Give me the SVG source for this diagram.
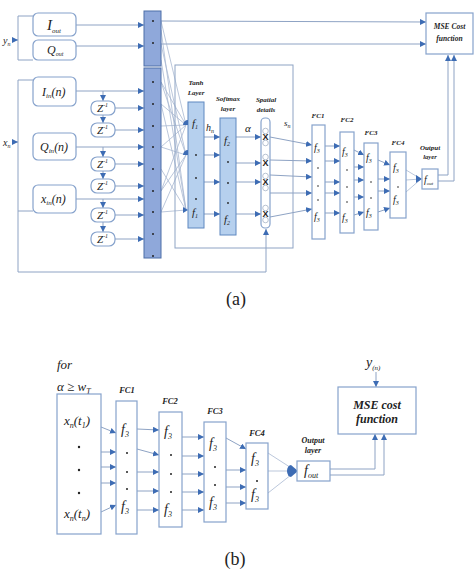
<svg xmlns="http://www.w3.org/2000/svg" width="474" height="570" viewBox="0 0 474 570">
<defs>
<marker id="ah" markerUnits="userSpaceOnUse" markerWidth="6" markerHeight="6" refX="6" refY="3" orient="auto">
<path d="M0,0 L6,3 L0,6 z" fill="#3d6cb4"/>
</marker>
<style>
.ln{fill:none;stroke:#8ea3c4;stroke-width:1}
.fan{fill:none;stroke:#aab9d2;stroke-width:0.8}
.ar{fill:none;stroke:#8ea3c4;stroke-width:1;marker-end:url(#ah)}
.bx{fill:#fff;stroke:#86a2cc;stroke-width:1.2}
.blk{fill:#8fa8da;stroke:#4d6ea8;stroke-width:1}
.lay{fill:#b6d0ee;stroke:#5f88c0;stroke-width:1}
.m{font-family:"Liberation Serif","Times New Roman",serif;font-style:italic;fill:#222}
.t{font-family:"Liberation Serif","Times New Roman",serif;font-style:italic;font-weight:bold;fill:#222;text-anchor:middle}
.dot{fill:#222}
.blob{fill:#3d6cb4}
</style>
</defs>
<rect width="474" height="570" fill="#fff"/>

<g id="connectors">
<polyline class="ln" points="33,16 18,16 18,60 33,60"/>
<line class="ar" x1="13" y1="40" x2="18" y2="40"/>
<polyline class="ln" points="33,80 18,80 18,272 266,272"/>
<line class="ln" x1="18" y1="211" x2="33" y2="211"/>
<line class="ar" x1="13" y1="142" x2="18" y2="142"/>
<line class="ar" x1="266" y1="272" x2="266" y2="229"/>
<line class="ar" x1="76" y1="25" x2="144" y2="25"/>
<line class="ar" x1="76" y1="46" x2="144" y2="46"/>
<line class="ar" x1="76" y1="91" x2="144" y2="91"/>
<line class="ar" x1="115" y1="108" x2="144" y2="108"/>
<line class="ar" x1="115" y1="130" x2="144" y2="130"/>
<line class="ar" x1="76" y1="147" x2="144" y2="147"/>
<line class="ar" x1="115" y1="164" x2="144" y2="164"/>
<line class="ar" x1="115" y1="186" x2="144" y2="186"/>
<line class="ar" x1="76" y1="199" x2="144" y2="199"/>
<line class="ar" x1="115" y1="215" x2="144" y2="215"/>
<line class="ar" x1="115" y1="239" x2="144" y2="239"/>
<line class="ar" x1="103" y1="91" x2="103" y2="101"/>
<line class="ar" x1="103" y1="115" x2="103" y2="123"/>
<line class="ar" x1="103" y1="147" x2="103" y2="157"/>
<line class="ar" x1="103" y1="171" x2="103" y2="179"/>
<line class="ar" x1="103" y1="199" x2="103" y2="208"/>
<line class="ar" x1="103" y1="222" x2="103" y2="232"/>
<line class="ar" x1="161" y1="21" x2="426" y2="22"/>
<line class="ar" x1="161" y1="44" x2="426" y2="44"/>
<line class="fan" x1="161" y1="21" x2="186" y2="125"/>
<line class="fan" x1="161" y1="44" x2="186" y2="155"/>
<line class="fan" x1="161" y1="30" x2="186" y2="210"/>
<line class="fan" x1="161" y1="82" x2="186" y2="125"/>
<line class="fan" x1="161" y1="82" x2="186" y2="155"/>
<line class="fan" x1="161" y1="104" x2="186" y2="210"/>
<line class="fan" x1="161" y1="104" x2="186" y2="125"/>
<line class="fan" x1="161" y1="126" x2="186" y2="125"/>
<line class="fan" x1="161" y1="147" x2="186" y2="155"/>
<line class="fan" x1="161" y1="147" x2="186" y2="125"/>
<line class="fan" x1="161" y1="169" x2="186" y2="210"/>
<line class="fan" x1="161" y1="191" x2="186" y2="125"/>
<line class="fan" x1="161" y1="191" x2="186" y2="155"/>
<line class="fan" x1="161" y1="212" x2="186" y2="210"/>
<line class="fan" x1="161" y1="212" x2="186" y2="155"/>
<line class="fan" x1="161" y1="60" x2="186" y2="210"/>
<line class="ar" x1="204" y1="137" x2="220" y2="137"/>
<line class="ar" x1="204" y1="155" x2="220" y2="155"/>
<line class="ar" x1="204" y1="182" x2="220" y2="182"/>
<line class="ar" x1="204" y1="214" x2="220" y2="214"/>
<line class="ar" x1="236" y1="137" x2="261" y2="137"/>
<line class="ar" x1="236" y1="163" x2="261" y2="163"/>
<line class="ar" x1="236" y1="182" x2="261" y2="182"/>
<line class="ar" x1="236" y1="214" x2="261" y2="214"/>
<line class="ar" x1="270" y1="137" x2="312" y2="145"/>
<line class="ar" x1="270" y1="160" x2="312" y2="161"/>
<line class="ar" x1="270" y1="175" x2="312" y2="177"/>
<line class="ar" x1="270" y1="193" x2="312" y2="193"/>
<line class="ar" x1="270" y1="217" x2="312" y2="209"/>
<line class="ar" x1="325" y1="146" x2="340" y2="146"/>
<line class="ar" x1="325" y1="161" x2="340" y2="161"/>
<line class="ar" x1="325" y1="182" x2="340" y2="182"/>
<line class="ar" x1="325" y1="193" x2="340" y2="193"/>
<line class="ar" x1="325" y1="213" x2="340" y2="213"/>
<line class="ar" x1="354" y1="150" x2="364" y2="155"/>
<line class="ar" x1="354" y1="167" x2="364" y2="167"/>
<line class="ar" x1="354" y1="180" x2="364" y2="180"/>
<line class="ar" x1="354" y1="197" x2="364" y2="197"/>
<line class="ar" x1="354" y1="215" x2="364" y2="212"/>
<line class="ar" x1="378" y1="160" x2="390" y2="165"/>
<line class="ar" x1="378" y1="179" x2="390" y2="179"/>
<line class="ar" x1="378" y1="191" x2="390" y2="191"/>
<line class="ar" x1="378" y1="212" x2="390" y2="208"/>
<line class="fan" x1="406" y1="170" x2="421" y2="179"/>
<line class="fan" x1="406" y1="180" x2="421" y2="179"/>
<line class="fan" x1="406" y1="192" x2="421" y2="179"/>
<path class="blob" d="M416,175 L422,179 L416,183 z"/>
<polyline class="ar" points="438,175 448,175 448,55"/>
<polyline class="ar" points="438,181 454,181 454,55"/>

<line class="ar" x1="101" y1="427" x2="116" y2="433"/>
<line class="ar" x1="101" y1="452" x2="116" y2="452"/>
<line class="ar" x1="101" y1="467" x2="116" y2="467"/>
<line class="ar" x1="101" y1="483" x2="116" y2="483"/>
<line class="ar" x1="101" y1="512" x2="116" y2="505"/>
<line class="ar" x1="137" y1="429" x2="159" y2="430"/>
<line class="ar" x1="137" y1="449" x2="159" y2="455"/>
<line class="ar" x1="137" y1="472" x2="159" y2="472"/>
<line class="ar" x1="137" y1="491" x2="159" y2="491"/>
<line class="ar" x1="137" y1="510" x2="159" y2="510"/>
<line class="ar" x1="182" y1="437" x2="204" y2="437"/>
<line class="ar" x1="182" y1="456" x2="204" y2="456"/>
<line class="ar" x1="182" y1="474" x2="204" y2="474"/>
<line class="ar" x1="182" y1="492" x2="204" y2="492"/>
<line class="ar" x1="182" y1="510" x2="204" y2="510"/>
<line class="ar" x1="226" y1="438" x2="246" y2="449"/>
<line class="ar" x1="226" y1="470" x2="246" y2="470"/>
<line class="ar" x1="226" y1="487" x2="246" y2="487"/>
<line class="ar" x1="226" y1="503" x2="246" y2="503"/>
<line class="fan" x1="268" y1="453" x2="296" y2="471"/>
<line class="fan" x1="268" y1="471" x2="296" y2="471"/>
<line class="fan" x1="268" y1="493" x2="296" y2="471"/>
<path class="blob" d="M291,465 A4,6 0 0 0 291,477 L298,471 z"/>
<polyline class="ar" points="330,469 375,469 375,434"/>
<polyline class="ar" points="330,475 384,475 384,434"/>
<line class="ar" x1="376" y1="372" x2="376" y2="387"/>
</g>

<g id="y-label"><text class="m" x="3" y="44" font-size="10">y<tspan font-size="6" dy="2">n</tspan></text></g>
<g id="x-label"><text class="m" x="3" y="146" font-size="10">x<tspan font-size="6" dy="2">n</tspan></text></g>

<g id="I-out"><rect class="bx" x="33" y="13" width="43" height="23" rx="5"/>
<text class="m" x="47" y="30" font-size="15">I<tspan font-size="7" dy="3">out</tspan></text></g>
<g id="Q-out"><rect class="bx" x="33" y="40" width="43" height="20" rx="5"/>
<text class="m" x="47" y="54" font-size="12">Q<tspan font-size="6" dy="2">out</tspan></text></g>

<g id="I-in"><rect class="bx" x="33" y="77" width="43" height="29" rx="5"/>
<text class="m" x="42" y="96" font-size="12">I<tspan font-size="7" dy="2">in</tspan><tspan dy="-2">(n)</tspan></text></g>
<g id="Q-in"><rect class="bx" x="33" y="133" width="43" height="27" rx="5"/>
<text class="m" x="40" y="151" font-size="12">Q<tspan font-size="7" dy="2">in</tspan><tspan dy="-2">(n)</tspan></text></g>
<g id="x-in"><rect class="bx" x="33" y="185" width="43" height="28" rx="5"/>
<text class="m" x="41" y="203" font-size="12">x<tspan font-size="7" dy="2">in</tspan><tspan dy="-2">(n)</tspan></text></g>

<g id="z1"><rect class="bx" x="91" y="101" width="24" height="14" rx="6"/><text class="m" x="97" y="112" font-size="11">Z<tspan font-size="6" dy="-5">-1</tspan></text></g>
<g id="z2"><rect class="bx" x="91" y="123" width="24" height="14" rx="6"/><text class="m" x="97" y="134" font-size="11">Z<tspan font-size="6" dy="-5">-1</tspan></text></g>
<g id="z3"><rect class="bx" x="91" y="157" width="24" height="14" rx="6"/><text class="m" x="97" y="168" font-size="11">Z<tspan font-size="6" dy="-5">-1</tspan></text></g>
<g id="z4"><rect class="bx" x="91" y="179" width="24" height="14" rx="6"/><text class="m" x="97" y="190" font-size="11">Z<tspan font-size="6" dy="-5">-1</tspan></text></g>
<g id="z5"><rect class="bx" x="91" y="208" width="24" height="14" rx="6"/><text class="m" x="97" y="219" font-size="11">Z<tspan font-size="6" dy="-5">-1</tspan></text></g>
<g id="z6"><rect class="bx" x="91" y="232" width="24" height="14" rx="6"/><text class="m" x="97" y="243" font-size="11">Z<tspan font-size="6" dy="-5">-1</tspan></text></g>

<g id="concat1"><rect class="blk" x="144" y="11" width="17" height="55"/>
<circle class="dot" cx="153" cy="21" r="1"/><circle class="dot" cx="153" cy="43" r="1"/></g>
<g id="concat2"><rect class="blk" x="144" y="68" width="17" height="190"/>
<circle class="dot" cx="153" cy="82" r="1"/><circle class="dot" cx="153" cy="104" r="1"/><circle class="dot" cx="153" cy="126" r="1"/><circle class="dot" cx="153" cy="147" r="1"/><circle class="dot" cx="153" cy="169" r="1"/><circle class="dot" cx="153" cy="191" r="1"/><circle class="dot" cx="153" cy="212" r="1"/><circle class="dot" cx="153" cy="234" r="1"/><circle class="dot" cx="153" cy="256" r="1"/></g>

<g id="attention-box"><rect x="175" y="65" width="118" height="183" fill="none" stroke="#8ea3c4" stroke-width="1"/></g>

<g id="tanh"><rect class="lay" x="188" y="102" width="16" height="126"/>
<text class="t" x="196" y="85" font-size="7">Tanh</text><text class="t" x="196" y="95" font-size="7">Layer</text>
<text class="m" x="192" y="127" font-size="11">f<tspan font-size="6" dy="2">1</tspan></text>
<circle class="dot" cx="196" cy="155" r="0.9"/><circle class="dot" cx="196" cy="178" r="0.9"/><circle class="dot" cx="196" cy="199" r="0.9"/>
<text class="m" x="192" y="216" font-size="11">f<tspan font-size="6" dy="2">1</tspan></text>
<path class="blob" d="M188,120 A5,5 0 0 0 183,125 L188,125 z"/>
<path class="blob" d="M188,150 A5,5 0 0 0 183,155 L188,155 z"/>
<path class="blob" d="M183,207 L188,210 L183,213 z"/>
</g>
<g id="softmax"><rect class="lay" x="220" y="118" width="16" height="117"/>
<text class="t" x="228" y="101" font-size="7">Softmax</text><text class="t" x="228" y="111" font-size="7">layer</text>
<text class="m" x="224" y="144" font-size="11">f<tspan font-size="6" dy="2">2</tspan></text>
<circle class="dot" cx="228" cy="162" r="0.9"/><circle class="dot" cx="228" cy="183" r="0.9"/><circle class="dot" cx="228" cy="203" r="0.9"/>
<text class="m" x="224" y="223" font-size="11">f<tspan font-size="6" dy="2">2</tspan></text></g>
<g id="spatial"><rect class="bx" x="261" y="118" width="9" height="110" rx="4"/>
<text class="t" x="266" y="102" font-size="7">Spatial</text><text class="t" x="266" y="112" font-size="7">details</text>
<g fill="none" stroke="#9aa8bd" stroke-width="0.7">
<circle cx="265.5" cy="131" r="2.8"/><circle cx="265.5" cy="143" r="2.8"/>
<circle cx="265.5" cy="157" r="2.8"/><circle cx="265.5" cy="176" r="2.8"/>
<circle cx="265.5" cy="188" r="2.8"/><circle cx="265.5" cy="208" r="2.8"/><circle cx="265.5" cy="220" r="2.8"/>
</g>
<g font-family="Liberation Sans,sans-serif" font-weight="bold" font-size="9" fill="#222" text-anchor="middle">
<text x="265.5" y="140">X</text><text x="265.5" y="166">X</text><text x="265.5" y="185">X</text><text x="265.5" y="217">X</text></g>
</g>
<g id="edge-labels">
<text class="m" x="206" y="131" font-size="10">h<tspan font-size="6" dy="2">n</tspan></text>
<text class="m" x="245" y="132" font-size="11">α</text>
<text class="m" x="284" y="126" font-size="9">s<tspan font-size="6" dy="2">n</tspan></text>
</g>

<g id="fc1a"><rect class="bx" x="312" y="125" width="13" height="114"/>
<text class="t" x="318" y="118" font-size="7">FC1</text>
<text class="m" x="314" y="151" font-size="10">f<tspan font-size="6" dy="2">3</tspan></text>
<circle class="dot" cx="318" cy="168" r="0.8"/><circle class="dot" cx="318" cy="186" r="0.8"/><circle class="dot" cx="318" cy="200" r="0.8"/>
<text class="m" x="314" y="220" font-size="10">f<tspan font-size="6" dy="2">3</tspan></text></g>
<g id="fc2a"><rect class="bx" x="340" y="132" width="14" height="101"/>
<text class="t" x="347" y="122" font-size="7">FC2</text>
<text class="m" x="342" y="155" font-size="10">f<tspan font-size="6" dy="2">3</tspan></text>
<circle class="dot" cx="347" cy="170" r="0.8"/><circle class="dot" cx="347" cy="187" r="0.8"/><circle class="dot" cx="347" cy="202" r="0.8"/>
<text class="m" x="342" y="221" font-size="10">f<tspan font-size="6" dy="2">3</tspan></text></g>
<g id="fc3a"><rect class="bx" x="364" y="143" width="14" height="87"/>
<text class="t" x="371" y="135" font-size="7">FC3</text>
<text class="m" x="366" y="161" font-size="10">f<tspan font-size="6" dy="2">3</tspan></text>
<circle class="dot" cx="371" cy="182" r="0.8"/><circle class="dot" cx="371" cy="198" r="0.8"/>
<text class="m" x="366" y="216" font-size="10">f<tspan font-size="6" dy="2">3</tspan></text></g>
<g id="fc4a"><rect class="bx" x="390" y="152" width="16" height="66"/>
<text class="t" x="398" y="145" font-size="7">FC4</text>
<text class="m" x="393" y="171" font-size="10">f<tspan font-size="6" dy="2">3</tspan></text>
<circle class="dot" cx="398" cy="187" r="0.8"/>
<text class="m" x="393" y="203" font-size="10">f<tspan font-size="6" dy="2">3</tspan></text></g>
<g id="outa"><rect class="bx" x="422" y="169" width="16" height="20"/>
<text class="t" x="430" y="150" font-size="7">Output</text><text class="t" x="430" y="159" font-size="6.5">layer</text>
<text class="m" x="424" y="183" font-size="10">f<tspan font-size="5" dy="2">out</tspan></text></g>
<g id="msea"><rect class="bx" x="426" y="13" width="47" height="41"/>
<text class="t" x="449.5" y="29" font-size="7.5">MSE Cost</text><text class="t" x="449.5" y="41" font-size="7.5">function</text></g>

<text x="236" y="305" font-family="'Liberation Serif','Times New Roman',serif" font-size="18" fill="#222" text-anchor="middle">(a)</text>

<g id="cond"><text class="m" x="57" y="369" font-size="13">for</text>
<text class="m" x="57" y="391" font-size="13">α ≥ w<tspan font-size="8" dy="3">T</tspan></text></g>
<g id="inb"><rect class="bx" x="57" y="394" width="44" height="140"/>
<text class="m" x="64" y="425" font-size="13">x<tspan font-size="8" dy="3">n</tspan><tspan dy="-3">(t</tspan><tspan font-size="8" dy="3">1</tspan><tspan dy="-3">)</tspan></text>
<circle class="dot" cx="79" cy="447" r="1.2"/><circle class="dot" cx="79" cy="470" r="1.2"/><circle class="dot" cx="79" cy="493" r="1.2"/>
<text class="m" x="64" y="518" font-size="13">x<tspan font-size="8" dy="3">n</tspan><tspan dy="-3">(t</tspan><tspan font-size="8" dy="3">n</tspan><tspan dy="-3">)</tspan></text></g>
<g id="fc1b"><rect class="bx" x="116" y="401" width="21" height="133"/>
<text class="t" x="127" y="393" font-size="8.5">FC1</text>
<text class="m" x="121" y="434" font-size="14">f<tspan font-size="8" dy="3">3</tspan></text>
<circle class="dot" cx="127" cy="453" r="1"/><circle class="dot" cx="127" cy="472" r="1"/><circle class="dot" cx="127" cy="489" r="1"/>
<text class="m" x="121" y="511" font-size="14">f<tspan font-size="8" dy="3">3</tspan></text></g>
<g id="fc2b"><rect class="bx" x="159" y="412" width="23" height="115"/>
<text class="t" x="170" y="404" font-size="8.5">FC2</text>
<text class="m" x="164" y="436" font-size="14">f<tspan font-size="8" dy="3">3</tspan></text>
<circle class="dot" cx="171" cy="455" r="1"/><circle class="dot" cx="171" cy="474" r="1"/><circle class="dot" cx="171" cy="492" r="1"/>
<text class="m" x="164" y="514" font-size="14">f<tspan font-size="8" dy="3">3</tspan></text></g>
<g id="fc3b"><rect class="bx" x="204" y="422" width="22" height="100"/>
<text class="t" x="215" y="414" font-size="8.5">FC3</text>
<text class="m" x="209" y="448" font-size="14">f<tspan font-size="8" dy="3">3</tspan></text>
<circle class="dot" cx="215" cy="467" r="1"/><circle class="dot" cx="215" cy="485" r="1"/>
<text class="m" x="209" y="507" font-size="14">f<tspan font-size="8" dy="3">3</tspan></text></g>
<g id="fc4b"><rect class="bx" x="246" y="443" width="22" height="66"/>
<text class="t" x="257" y="436" font-size="8.5">FC4</text>
<text class="m" x="251" y="463" font-size="14">f<tspan font-size="8" dy="3">3</tspan></text>
<circle class="dot" cx="257" cy="481" r="1"/>
<text class="m" x="251" y="499" font-size="14">f<tspan font-size="8" dy="3">3</tspan></text></g>
<g id="outb"><rect class="bx" x="297" y="461" width="33" height="20"/>
<text class="t" x="313" y="443" font-size="8">Output</text><text class="t" x="313" y="453" font-size="8">layer</text>
<text class="m" x="304" y="475" font-size="14">f<tspan font-size="8" dy="3">out</tspan></text></g>
<g id="mseb"><rect class="bx" x="338" y="387" width="78" height="47"/>
<text class="t" x="377" y="409" font-size="12">MSE cost</text><text class="t" x="377" y="423" font-size="12">function</text></g>
<g id="yb"><text class="m" x="366" y="367" font-size="14">y<tspan font-size="7" dy="3">(n)</tspan></text></g>

<text x="235" y="565" font-family="'Liberation Serif','Times New Roman',serif" font-size="18" fill="#222" text-anchor="middle">(b)</text>
</svg>
